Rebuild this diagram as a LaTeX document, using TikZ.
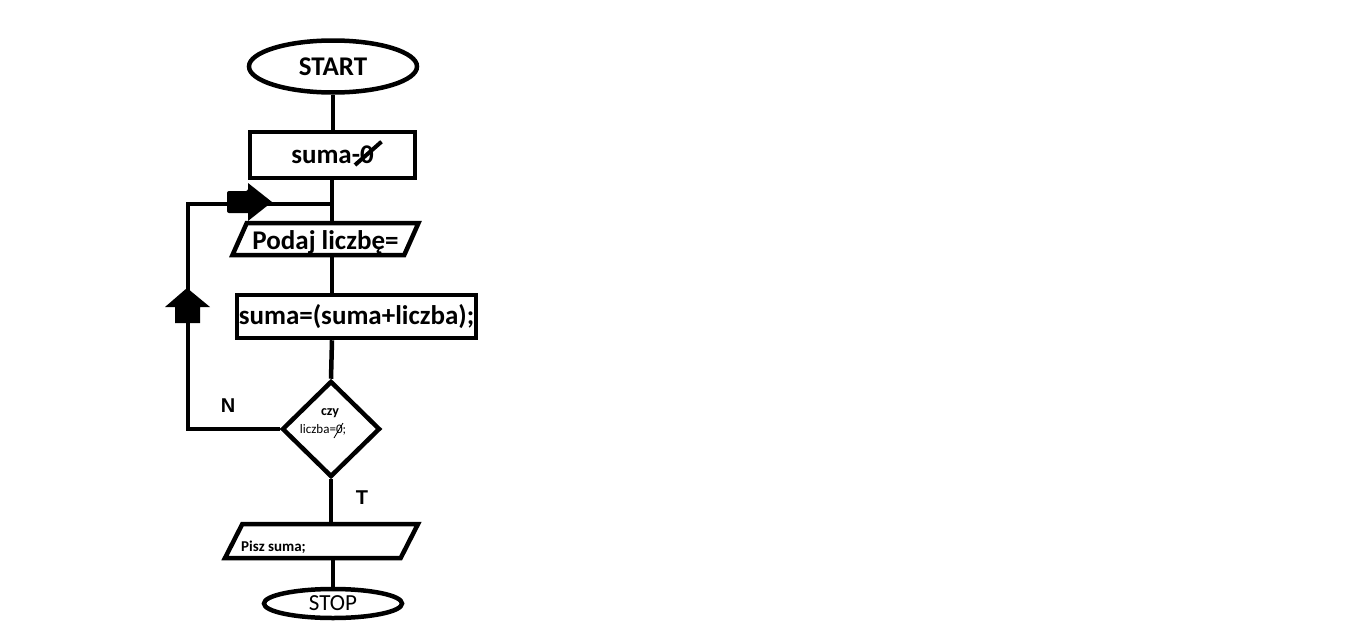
\documentclass[tikz,border=0pt]{standalone}
\usepackage{fontspec}
\setmainfont{Carlito}
\newfontfamily\arialfont{Liberation Sans}
\usetikzlibrary{shapes.geometric,calc}

\tikzset{
  flow/.style={draw, line width=4.5pt, inner sep=0pt},
  terminal/.style={flow, ellipse},
  procbox/.style={flow, rectangle},
  iobox/.style={flow, trapezium, trapezium stretches body, inner xsep=0pt},
  decision/.style={flow, diamond},
  link/.style={line width=4.5pt},
  branch/.style={font=\arialfont\bfseries\fontsize{20}{24}\selectfont},
  big/.style={font=\bfseries\fontsize{27}{31}\selectfont}
}

\begin{document}
\begin{tikzpicture}[x=1pt,y=-1pt]
  \useasboundingbox (0,0) rectangle (1360,621);
  \fill[white] (0,0) rectangle (1360,621);

  % blocks
  \node[terminal, big, minimum width=168, minimum height=52] (start) at (333,66.5) {START};
  \node[procbox, big, minimum width=165, minimum height=46] (initBox) at (332.5,155) {suma-0};
  \node[iobox, big, trapezium left angle=66, trapezium right angle=114,
        text height=20pt, text depth=0pt, inner ysep=6pt,
        minimum width=186] (readNum) at (325.5,239) {Podaj liczbę=};
  \node[procbox, big, minimum width=239, minimum height=43] (calcBox) at (356.5,316.5) {suma=(suma+liczba);};
  \node[decision, minimum width=98, minimum height=96] (decide) at (331,429) {};
  \node[inner sep=0pt, font=\bfseries\fontsize{14}{17}\selectfont] (decideText) at (330,413) {czy};
  \node[inner sep=0pt, font=\fontsize{13}{15}\selectfont] (decideCond) at (323,430) {liczba=0;};
  \node[iobox, trapezium left angle=63, trapezium right angle=117,
        text height=0pt, text depth=0pt, inner ysep=17pt,
        minimum width=193] (printSum) at (321.5,541) {};
  \node[anchor=west, inner sep=0pt, font=\bfseries\fontsize{15}{18}\selectfont] (printText) at (241,547) {Pisz suma;};
  \node[terminal, minimum width=138, minimum height=29, font=\fontsize{23}{27}\selectfont] (stop) at (333,603.5) {STOP};

  % strike-throughs on the zeros
  \draw[line width=4pt] ($(initBox.center)+(22.5,10)$) -- ($(initBox.center)+(49,-13.3)$);
  \draw[line width=0.8pt] ($(decide.center)+(3,9)$) -- ($(decide.center)+(12,-6)$);

  % main flow
  \coordinate (spine) at (332,0);
  \draw[link] (start.south) -- (start.south |- initBox.north);
  \draw[link] (spine |- initBox.south) -- (spine |- readNum.north);
  \draw[link] (spine |- readNum.south) -- (spine |- calcBox.north);
  \draw[link] (spine |- calcBox.south) -- (decide.north);
  \draw[link] (decide.south) -- (decide.south |- printSum.north);
  \draw[link] (stop.north |- printSum.south) -- (stop.north);

  % loop back
  \coordinate (loopCorner) at (188,204);
  \coordinate (loopJoin) at (spine |- loopCorner);
  \draw[link] (decide.west) -| (loopCorner) -- (loopJoin);
  \fill[rounded corners=2pt] (227,191) -- (248,191) [sharp corners] -- (248,183) -- (272,202)
    -- (248,221) -- (248,213) [rounded corners=2pt] -- (227,213) -- cycle;
  \fill (175,323) -- (175,307) -- (165,307) -- (187,288) -- (210,307) -- (200,307) -- (200,323) -- cycle;

  % branch labels
  \node[branch] (noLabel) at (228,406) {N};
  \node[branch] (yesLabel) at (362,498) {T};
\end{tikzpicture}
\end{document}
